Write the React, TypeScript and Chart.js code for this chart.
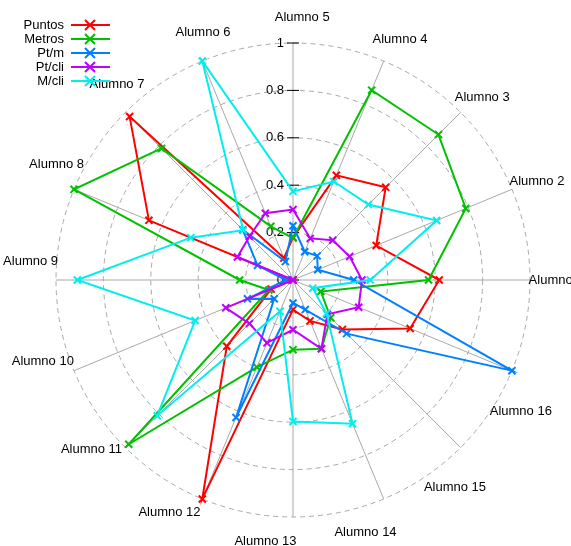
import React, { useEffect, useRef } from "react";
import { Chart, registerables } from "chart.js";
Chart.register(...registerables);

const categories = [
  "Alumno 5", "Alumno 4", "Alumno 3", "Alumno 2", "Alumno 1", "Alumno 16",
  "Alumno 15", "Alumno 14", "Alumno 13", "Alumno 12", "Alumno 11", "Alumno 10",
  "Alumno 9", "Alumno 8", "Alumno 7", "Alumno 6",
];
const puntos = [0.18, 0.478, 0.553, 0.38, 0.617, 0.535, 0.295, 0.187, 0.125, 1.0, 0.395, 0.1, 0, 0.658, 0.975, 0.1];
const metros = [0.177, 0.867, 0.868, 0.789, 0.572, 0.127, 0.225, 0.314, 0.294, 0.398, 0.98, 0.11, 0.225, 1.0, 0.785, 0.245];
const ptm = [0.229, 0.129, 0.144, 0.113, 0.256, 1.0, 0.32, 0.135, 0.097, 0.628, 0.112, 0.208, 0.03, 0.162, 0.3, 0.084];
const ptcli = [0.297, 0.19, 0.237, 0.259, 0.291, 0.3, 0.205, 0.314, 0.21, 0.287, 0.26, 0.307, 0, 0.254, 0.26, 0.305];
const mcli = [0.374, 0.45, 0.45, 0.656, 0.326, 0.09, 0.2, 0.656, 0.597, 0.143, 0.81, 0.447, 0.91, 0.467, 0.297, 1.0];
const seriesNames = ["Puntos", "Metros", "Pt/m", "Pt/cli", "M/cli"];
const seriesColors = ["#ff0000", "#00c000", "#0080ff", "#c000ff", "#00eeee"];
const tickValues = [0, 0.2, 0.4, 0.6, 0.8, 1];
const tickLabels = ["0", "0.2", "0.4", "0.6", "0.8", "1"];

const FONT = "13px 'Liberation Sans', Arial, sans-serif";

function drawCross(ctx: CanvasRenderingContext2D, x: number, y: number, r: number) {
  ctx.beginPath();
  ctx.moveTo(x - r, y - r);
  ctx.lineTo(x + r, y + r);
  ctx.moveTo(x - r, y + r);
  ctx.lineTo(x + r, y - r);
  ctx.stroke();
}

const gnuplotDecor = {
  id: "gnuplotDecor",
  beforeDatasetsDraw(chart: any) {
    const scale = chart.scales.r;
    const ctx = chart.ctx;
    const n = categories.length;
    ctx.save();
    ctx.font = FONT;
    ctx.fillStyle = "#000";
    ctx.strokeStyle = "#000";
    ctx.lineWidth = 1;
    ctx.textAlign = "right";
    ctx.textBaseline = "middle";
    tickValues.forEach((v, i) => {
      const y = scale.yCenter - scale.getDistanceFromCenterForValue(v);
      ctx.beginPath();
      ctx.moveTo(scale.xCenter - 6, y);
      ctx.lineTo(scale.xCenter + 6, y);
      ctx.stroke();
      ctx.fillText(tickLabels[i], scale.xCenter - 9, y);
    });
    ctx.textAlign = "center";
    categories.forEach((c, i) => {
      // counter-clockwise step from the east-pointing spoke, labels spread at 22° per step
      const step = (((n / 4 - i) % n) + n) % n;
      const phi = step * 22;
      const idx = ((90 - phi) / 360) * n;
      const p = scale.getPointPosition(idx, scale.drawingArea * 1.11);
      ctx.fillText(c, p.x, p.y);
    });
    ctx.restore();
  },
  afterDraw(chart: any) {
    const ctx = chart.ctx;
    ctx.save();
    ctx.font = FONT;
    ctx.textAlign = "right";
    ctx.textBaseline = "middle";
    seriesNames.forEach((name, i) => {
      const y = 25 + i * 14;
      ctx.fillStyle = "#000";
      ctx.fillText(name, 64, y);
      ctx.strokeStyle = seriesColors[i];
      ctx.lineWidth = 2;
      ctx.beginPath();
      ctx.moveTo(71, y);
      ctx.lineTo(110, y);
      ctx.stroke();
      drawCross(ctx, 90, y, 5);
    });
    ctx.restore();
  },
};

export default function App() {
  const ref = useRef<HTMLCanvasElement>(null);
  useEffect(() => {
    if (!ref.current) return;
    const values = [puntos, metros, ptm, ptcli, mcli];
    const chart = new Chart(ref.current, {
      type: "radar",
      data: {
        labels: categories,
        datasets: values.map((d, i) => ({
          label: seriesNames[i],
          data: d,
          borderColor: seriesColors[i],
          backgroundColor: seriesColors[i],
          borderWidth: 2,
          fill: false,
          tension: 0,
          pointStyle: "crossRot",
          pointRadius: 5,
          pointBorderWidth: 2,
          pointBorderColor: seriesColors[i],
          order: values.length - i,
        })),
      },
      options: {
        responsive: false,
        animation: false,
        devicePixelRatio: 1,
        layout: { padding: { left: 56, right: 41, top: 43, bottom: 29 } },
        plugins: { legend: { display: false }, tooltip: { enabled: false } },
        scales: {
          r: {
            min: 0,
            max: 1,
            ticks: { stepSize: 0.2, display: false },
            pointLabels: { display: false },
            grid: { circular: true, color: "#a8a8a8", lineWidth: 1 },
            border: { dash: [5, 4] },
            angleLines: { display: true, color: "#a8a8a8", lineWidth: 1 },
          },
        },
      },
      plugins: [gnuplotDecor],
    });
    return () => chart.destroy();
  }, []);
  return (
    <div style={{ position: "absolute", left: 0, top: 0, width: 571, height: 546, background: "#fff" }}>
      <canvas ref={ref} width={571} height={546} />
    </div>
  );
}
